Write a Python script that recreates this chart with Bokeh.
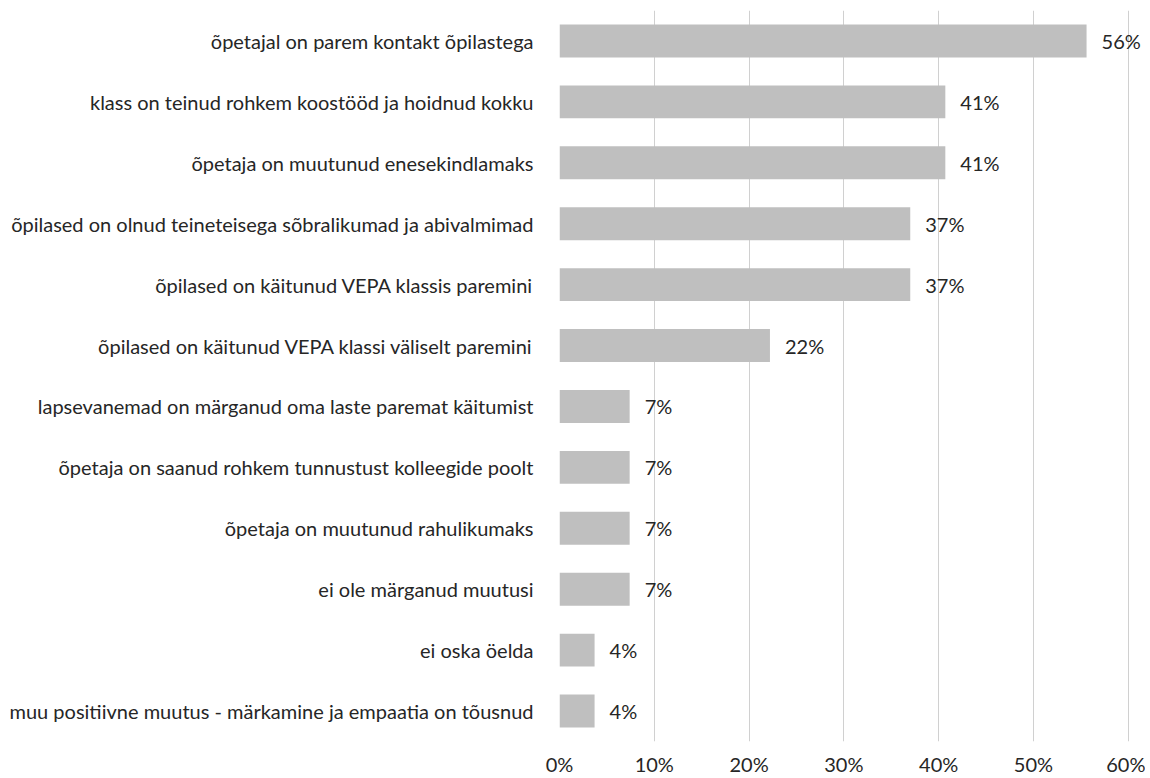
from bokeh.plotting import figure
from bokeh.models import ColumnDataSource, LabelSet, NumeralTickFormatter, FixedTicker, Range1d
from bokeh.core.properties import value
from bokeh.embed import file_html
from bokeh.resources import INLINE

categories = [
    "õpetajal on parem kontakt õpilastega",
    "klass on teinud rohkem koostööd ja hoidnud kokku",
    "õpetaja on muutunud enesekindlamaks",
    "õpilased on olnud teineteisega sõbralikumad ja abivalmimad",
    "õpilased on käitunud VEPA klassis paremini",
    "õpilased on käitunud VEPA klassi väliselt paremini",
    "lapsevanemad on märganud oma laste paremat käitumist",
    "õpetaja on saanud rohkem tunnustust kolleegide poolt",
    "õpetaja on muutunud rahulikumaks",
    "ei ole märganud muutusi",
    "ei oska öelda",
    "muu positiivne muutus - märkamine ja empaatia on tõusnud",
]
values = [0.556, 0.407, 0.407, 0.370, 0.370, 0.222, 0.074, 0.074, 0.074, 0.074, 0.037, 0.037]
value_labels = ["56%", "41%", "41%", "37%", "37%", "22%", "7%", "7%", "7%", "7%", "4%", "4%"]
x_ticks = [0, 0.1, 0.2, 0.3, 0.4, 0.5, 0.6]

FONT = "Lato"
FS = "20px"
TXT = "#262626"

src = ColumnDataSource(dict(cat=categories, val=values, lab=value_labels))

p = figure(
    y_range=list(reversed(categories)),
    x_range=Range1d(0, 0.615),
    width=1145, height=778,
    output_backend="svg", toolbar_location=None,
    min_border_left=559, min_border_top=10, min_border_bottom=37, min_border_right=3,
)
p.outline_line_color = None
p.hbar(y="cat", right="val", height=0.54, source=src, color="#BFBFBF", line_color=None)

labels = LabelSet(x="val", y="cat", text="lab", source=src, x_offset=15,
                  text_baseline="middle", text_align="left",
                  text_font=value(FONT), text_font_size=value(FS), text_color=value(TXT))
p.add_layout(labels)

p.ygrid.grid_line_color = None
p.xgrid.grid_line_color = "#D0D0D0"
p.xgrid.grid_line_width = 1
p.xaxis.ticker = FixedTicker(ticks=x_ticks)
p.xaxis.formatter = NumeralTickFormatter(format="0%")
for ax in (p.xaxis[0], p.yaxis[0]):
    ax.axis_line_color = None
    ax.major_tick_line_color = None
    ax.minor_tick_line_color = None
    ax.major_label_text_font = FONT
    ax.major_label_text_font_size = FS
    ax.major_label_text_color = TXT
p.xaxis.major_tick_out = 0
p.xaxis.major_tick_in = 0
p.xaxis.minor_tick_out = 0
p.xaxis.minor_tick_in = 0
p.yaxis.major_label_standoff = 20
p.xaxis.major_label_standoff = 10

open("out.html", "w").write(file_html(p, INLINE))
